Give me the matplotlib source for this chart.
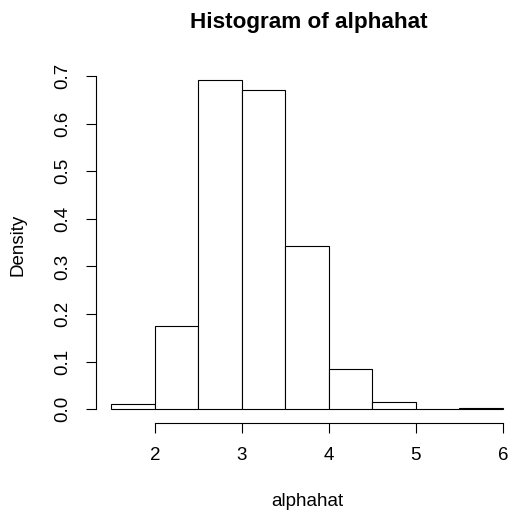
import matplotlib
matplotlib.use("Agg")
import matplotlib.pyplot as plt

# histogram bins (left edges, width 0.5) and densities
bin_left = [1.5, 2.0, 2.5, 3.0, 3.5, 4.0, 4.5, 5.0, 5.5]
density = [0.012, 0.175, 0.691, 0.671, 0.344, 0.085, 0.016, 0.0, 0.002]
bin_width = 0.5
x_ticks = [2, 3, 4, 5, 6]
y_ticks = [0.0, 0.1, 0.2, 0.3, 0.4, 0.5, 0.6, 0.7]

plt.rcParams["font.family"] = ["Liberation Sans", "DejaVu Sans"]

W, H = 510, 512
fig = plt.figure(figsize=(W / 100, H / 100), dpi=100)

# plot region in pixels (R style: 4% extension beyond data range)
left_px, right_px, bottom_px, top_px = 95.7, 510, 422.5, 66.5
ax = fig.add_axes([left_px / W, 1 - bottom_px / H,
                   (right_px - left_px) / W, (bottom_px - top_px) / H])

ax.bar(bin_left, density, width=bin_width, align="edge",
       facecolor="white", edgecolor="black", linewidth=0.8)

ax.set_xlim(1.32, 1.32 + (right_px - left_px) / 87.0)
ax.set_ylim(-0.0277, 0.72)

for s in ["top", "right"]:
    ax.spines[s].set_visible(False)
ax.spines["left"].set_bounds(0, 0.7)
ax.spines["bottom"].set_bounds(2, 6)
ax.spines["left"].set_linewidth(0.8)
ax.spines["bottom"].set_linewidth(0.8)

ax.set_xticks(x_ticks)
ax.set_xticklabels([str(v) for v in x_ticks])
ax.set_yticks(y_ticks)
ax.set_yticklabels([f"{v:.1f}" for v in y_ticks], rotation=90, va="center")
ax.tick_params(axis="both", direction="out", length=7.5, width=0.8, labelsize=13.5)
ax.tick_params(axis="x", pad=10)
ax.tick_params(axis="y", pad=10)

ax.set_xlabel("alphahat", fontsize=13.5)
ax.set_ylabel("Density", fontsize=13.5)
ax.xaxis.set_label_coords((307.5 - left_px) / (right_px - left_px),
                          (bottom_px - 502) / (bottom_px - top_px))
ax.yaxis.set_label_coords((18 - left_px) / (right_px - left_px), 0.5)
ax.xaxis.label.set_va("center")
ax.yaxis.label.set_va("center")

fig.text(309 / W, 1 - 22.5 / H, "Histogram of alphahat",
         ha="center", va="center", fontsize=16.2, fontweight="bold")

fig.savefig("out.png", dpi=100)
